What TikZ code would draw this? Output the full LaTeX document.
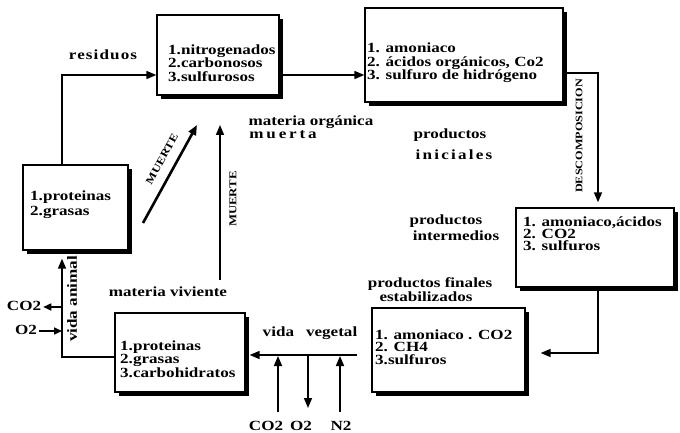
\documentclass[tikz,border=0pt]{standalone}
\usepackage{fontspec}
\setmainfont{Liberation Serif}[FakeStretch=1.22]
\usetikzlibrary{arrows.meta,shadows}
\tikzset{
  ln/.style={line width=1.6pt},
  arr/.style={ln, -{Triangle[length=10pt,width=8pt]}},
  box/.style={draw, line width=1.3pt, fill=white,
    drop shadow={shadow xshift=4pt, shadow yshift=-4pt, fill=black, opacity=1}, inner sep=0pt},
  btxt/.style={font=\fontsize{14}{13.5}\selectfont\bfseries, align=left, inner sep=0pt, anchor=west},
  lbl/.style={font=\fontsize{14}{14}\selectfont\bfseries, inner sep=0pt},
  rlbl/.style={font=\fontsize{10.5}{11}\selectfont\bfseries, inner sep=0pt},
}
\begin{document}
\begin{tikzpicture}[x=1pt,y=-1pt]
\useasboundingbox (0,0) rectangle (680,433);
\fill[white] (0,0) rectangle (680,433);

% boxes
\node[box, minimum width=122pt, minimum height=80pt] (b1) at (218,55) {};
\node[box, minimum width=198pt, minimum height=94pt] (b2) at (464,55) {};
\node[box, minimum width=158pt, minimum height=79pt] (b3) at (595,247.5) {};
\node[box, minimum width=153pt, minimum height=84pt] (b4) at (448.5,350) {};
\node[box, minimum width=130pt, minimum height=79pt] (b5) at (180,352.5) {};
\node[box, minimum width=105pt, minimum height=85pt] (b6) at (75.5,207.5) {};

% box texts
\node[btxt] (t1) at (168,63) {1.nitrogenados\\2.carbonosos\\3.sulfurosos};
\node[btxt] (t2) at (367,63) {1. amoniaco\\2. ácidos orgánicos, Co2\\3. sulfuro de hidrógeno};
\node[btxt, font=\fontsize{14}{12}\selectfont\bfseries] (t3) at (523,234) {1. amoniaco,ácidos\\2. CO2\\3. sulfuros};
\node[btxt, font=\fontsize{14}{12.5}\selectfont\bfseries] (t4) at (375,347) {1. amoniaco . CO2\\2. CH4\\3.sulfuros};
\node[btxt] (t5) at (120,359) {1.proteinas\\2.grasas\\3.carbohidratos};
\node[btxt, font=\fontsize{14}{15}\selectfont\bfseries] (t6) at (30,205) {1.proteinas\\2.grasas};

% main connectors
\draw[arr] ([xshift=-13.5pt]b6.north) |- ([yshift=-20pt]b1.west);
\draw[arr] ([yshift=-20pt]b1.east) -- ([yshift=-20pt]b2.west);
\draw[arr, shorten >=5pt] ([yshift=-18pt]b2.east) -| ([xshift=3pt]b3.north);
\draw[arr, shorten >=15pt] ([xshift=3pt]b3.south) |- ([yshift=-3pt]b4.east);
\draw[arr, shorten <=14pt, shorten >=4pt] ([yshift=-5pt]b4.west) -- ([yshift=-2.5pt]b5.east);
\draw[arr, shorten >=8pt] ([yshift=-4.5pt]b5.west) -| ([xshift=-13.5pt]b6.south);

% CO2 / O2 at left
\node[lbl] (co2l) at (24,306) {CO2};
\node[lbl] (o2l) at (26,330) {O2};
\coordinate (j1) at (62,307);
\coordinate (j2) at (62,331);
\draw[arr, -{Triangle[length=8pt,width=7pt]}, shorten >=2pt] (j1) -- (co2l.east |- j1);
\draw[arr, -{Triangle[length=8pt,width=7pt]}, shorten <=2pt] (o2l.east |- j2) -- (j2);

% bottom gases
\coordinate (c1a) at (278,412); \coordinate (c1b) at (278,356);
\coordinate (c2a) at (308,355); \coordinate (c2b) at (308,408);
\coordinate (c3a) at (340,412); \coordinate (c3b) at (340,356);
\draw[arr] (c1a) -- (c1b);
\draw[arr] (c2a) -- (c2b);
\draw[arr] (c3a) -- (c3b);
\node[lbl] (lco2) at (266,426) {CO2};
\node[lbl] (lo2) at (301,426) {O2};
\node[lbl] (ln2) at (341,426) {N2};

% MUERTE arrows
\coordinate (d1) at (143,223); \coordinate (d2) at (197,125);
\draw[arr, line width=2.6pt] (d1) -- (d2);
\node[rlbl, rotate=61] (mu1) at (162,159) {MUERTE};
\coordinate (m1) at (220,280); \coordinate (m2) at (220,125);
\draw[arr] (m1) -- (m2);
\node[rlbl, rotate=90] (mu2) at (233,199) {MUERTE};

% rotated labels
\node[font=\fontsize{10}{10}\selectfont\bfseries, inner sep=0pt, rotate=90] (desc) at (579,136) {DESCOMPOSICION};
\node[lbl, rotate=90] (va) at (72,299) {vida animal};

% labels
\node[lbl] (res) at (103,55) {\addfontfeatures{LetterSpace=8}residuos};
\node[lbl] (mo) at (311,122) {materia orgánica};
\node[lbl] (mu) at (283,135) {\addfontfeatures{LetterSpace=20}muerta};
\node[lbl] (pi1) at (450,135) {productos};
\node[lbl] (pi2) at (454,155) {\addfontfeatures{LetterSpace=16}iniciales};
\node[lbl] (pm1) at (446,221) {productos};
\node[lbl] (pm2) at (456,236) {intermedios};
\node[lbl] (pf1) at (430,284) {productos finales};
\node[lbl] (pf2) at (426,297) {estabilizados};
\node[lbl] (mv) at (168,292) {materia viviente};
\node[lbl] (vv) at (310,333) {vida\hspace{12pt}vegetal};
\end{tikzpicture}
\end{document}
